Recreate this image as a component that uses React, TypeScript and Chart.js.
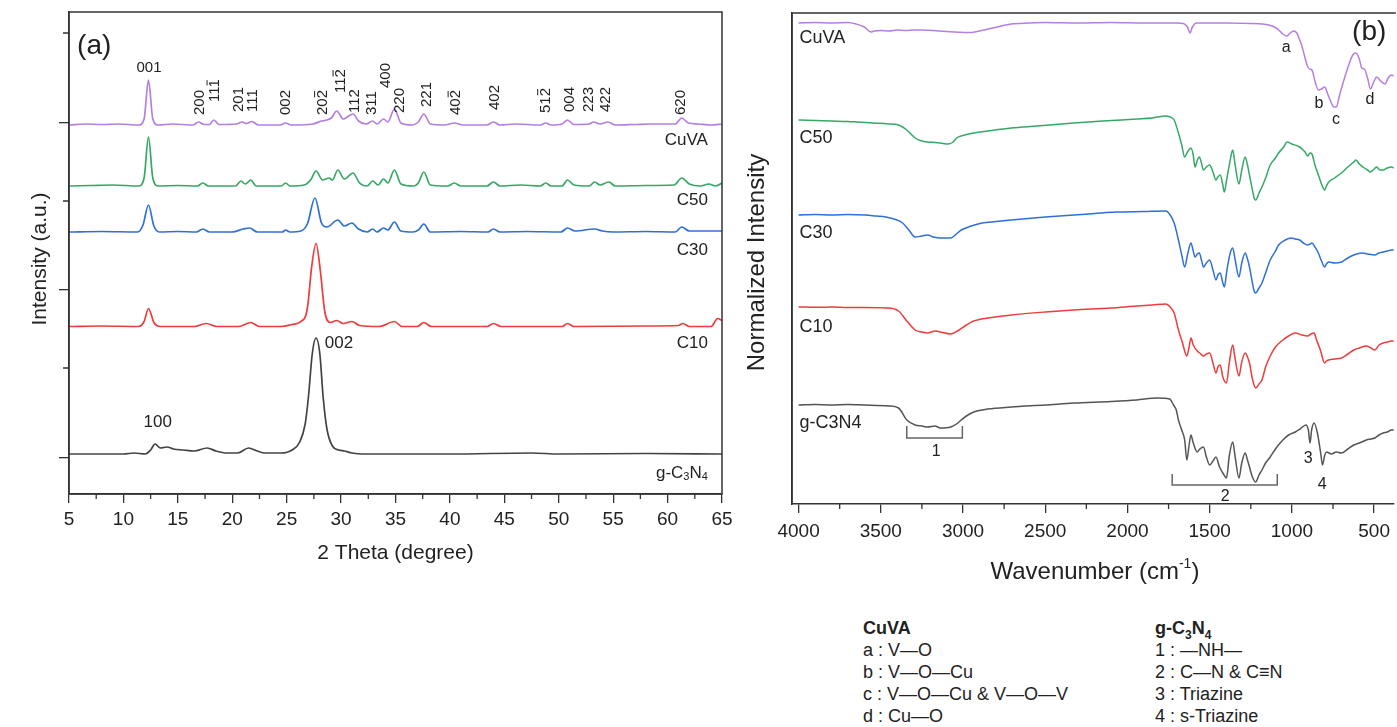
import React, { useEffect, useRef } from 'react';
import { Chart, registerables } from 'chart.js';

Chart.register(...registerables);

const SANS = "'Liberation Sans', Arial, sans-serif";
const TXT = '#222222';
const AXC = '#333333';

// ---------------- Panel (a): XRD ----------------
const XRD_NAMES = ['CuVA', 'C50', 'C30', 'C10', 'g-C3N4'];
const XRD_COLORS = ['#b57fe2', '#35a866', '#2f6fd8', '#ee3b3b', '#444444'];
const XRD_OFFSETS = [369, 308, 262, 167.5, 40];

const XRD_CUVA: [number, number][] = [
  [5, 0], [6.5, 1], [8, 0.5], [9.5, 1], [11.4, 0], [11.9, 6], [12.3, 45], [12.7, 6], [13.2, 0], [14.5, 1], [16.4, 0],
  [16.9, 3], [17.4, 0.5], [17.9, 0.5], [18.3, 5], [18.8, 0.5], [20.4, 1], [20.9, 3], [21.3, 1.5], [21.8, 3.5], [22.4, 0],
  [24.4, 0], [24.9, 2], [25.4, 0], [27.4, 1], [28.2, 4], [28.7, 5], [29.1, 7], [29.6, 14], [30.2, 6], [30.7, 9],
  [31.1, 11], [31.6, 4], [32.3, 1], [32.9, 4], [33.3, 1], [33.9, 6], [34.3, 3], [34.9, 16], [35.5, 2], [36.5, 0],
  [37.1, 3], [37.6, 11], [38.2, 1], [39.5, 0], [40.4, 2], [41.2, 0], [43.4, 0], [44.0, 3], [44.6, 0], [46, 1],
  [48.3, 0], [48.8, 2], [49.3, 0], [50.3, 1], [50.8, 5], [51.4, 0.5], [52.8, 1], [53.2, 3], [53.8, 1], [54.5, 3],
  [55.2, 0], [57, 0.5], [58.5, 1], [60.7, 1], [61.3, 7], [61.9, 2], [62.8, 1], [64, 0], [65, 1],
];
const XRD_C50: [number, number][] = [
  [5, 0], [7, 0.5], [9, 1], [11.4, 0], [11.9, 8], [12.3, 49], [12.7, 8], [13.2, 0], [15, 0.5], [16.8, 0], [17.3, 3],
  [17.8, 0], [20.3, 0], [20.8, 5], [21.2, 2], [21.7, 6], [22.2, 0], [24.5, 0], [24.9, 3], [25.3, 0], [26.6, 1],
  [27.2, 6], [27.7, 15], [28.3, 6], [28.9, 8], [29.2, 6], [29.7, 16], [30.3, 7], [31.1, 13], [31.7, 3], [32.4, 0],
  [32.9, 5], [33.4, 1], [33.9, 7], [34.3, 3], [34.9, 16], [35.5, 2], [36.6, 0], [37.1, 3], [37.6, 14], [38.2, 1],
  [39.8, 0], [40.4, 3], [41, 0], [43.4, 0], [44, 4], [44.6, 0], [46.5, 1], [48.3, 0], [48.8, 3], [49.3, 0],
  [50.3, 0], [50.8, 6], [51.4, 1], [52.8, 0], [53.3, 4], [53.8, 1], [54.6, 4], [55.2, 0], [58, 0.5], [60.6, 1],
  [61.3, 8], [62, 2], [63, 0], [63.8, 2], [64.4, 0], [65, 3],
];
const XRD_C30: [number, number][] = [
  [5, 0], [8, 0.5], [11.3, 0], [11.8, 7], [12.3, 27], [12.8, 6], [13.3, 0], [15, 0.5], [16.7, 0], [17.3, 3], [17.9, 0],
  [20, 0], [21, 3], [21.6, 4], [22.3, 0], [24.6, 0], [24.9, 2], [25.3, 0], [26.3, 1], [26.9, 8], [27.6, 34],
  [28.2, 9], [28.7, 5], [29.7, 12], [30.3, 6], [31.0, 9], [31.6, 3], [32.4, 0], [32.9, 3], [33.3, 0], [33.9, 4],
  [34.3, 2], [34.9, 10], [35.5, 1], [36.6, 0], [37.1, 2], [37.6, 8], [38.2, 0], [41, 0.5], [43.5, 0], [44, 3],
  [44.6, 0], [47, 0.5], [50.2, 0], [50.8, 4], [51.5, 1], [53.3, 3], [54, 1], [55, 0], [58, 0.5], [60.7, 0],
  [61.3, 5], [62, 1], [65, 1],
];
const XRD_C10: [number, number][] = [
  [5, 0], [8, 0.5], [11.4, 0], [11.9, 5], [12.3, 18], [12.8, 4], [13.4, 0], [16.5, 0], [17.6, 3], [18.6, 0], [20.6, 0],
  [21.7, 4], [22.5, 0], [24.5, 0], [25.5, 2], [26.3, 5], [26.9, 18], [27.3, 60], [27.7, 83], [28.1, 55], [28.5, 15],
  [29, 4], [29.6, 6], [30.2, 3], [31, 5], [31.7, 1], [33.5, 0], [34.9, 5], [35.6, 0], [37, 0], [37.6, 4], [38.3, 0],
  [43.4, 0], [44, 3], [44.7, 0], [50.3, 0], [50.8, 3], [51.4, 0], [58, 0.5], [61, 1], [61.4, 3], [62, 0], [64, 0],
  [64.6, 8], [65, 6],
];
const XRD_GCN: [number, number][] = [
  [5, 0], [8, 0], [10, 0], [11, 1], [12, 0], [12.5, 4], [12.9, 10], [13.4, 6], [14, 7], [14.6, 5], [15.5, 4],
  [16.5, 3], [17.7, 6], [18.5, 3], [19.5, 1], [20.5, 1], [21.5, 6], [22.3, 3], [23, 1], [24.5, 1], [25.5, 4],
  [26.2, 12], [26.7, 30], [27.0, 57], [27.35, 100], [27.7, 116], [28.05, 100], [28.35, 57], [28.7, 25], [29.2, 8],
  [29.8, 4], [30.3, 3], [31, 1], [32, 0], [40, 0], [47.5, 1], [50, 0], [58, 0.5], [65, 0],
];
const XRD_DATA = [XRD_CUVA, XRD_C50, XRD_C30, XRD_C10, XRD_GCN];

const X_TICKS_A = [5, 10, 15, 20, 25, 30, 35, 40, 45, 50, 55, 60, 65];
const X_MINOR_A = [7.5, 12.5, 17.5, 22.5, 27.5, 32.5, 37.5, 42.5, 47.5, 52.5, 57.5, 62.5];
const Y_TICKS_A = [36, 204, 371];
const Y_MINOR_A = [126, 293, 461];

// label, barred char index, 2theta, bottom (a.u.)
const MILLER: [string, number, number, number][] = [
  ['200', -1, 17.0, 379], ['111', 2, 18.42, 392], ['201', -1, 20.6, 382], ['111', -1, 21.87, 382],
  ['002', -1, 24.94, 379], ['202', 2, 28.3, 379], ['112', 2, 30.0, 401], ['112', -1, 31.29, 381],
  ['311', -1, 32.85, 379], ['400', -1, 34.14, 406], ['220', -1, 35.38, 381], ['221', -1, 37.9, 387],
  ['402', 2, 40.57, 379], ['402', -1, 44.1, 384], ['512', 2, 48.8, 381], ['004', -1, 51.0, 382],
  ['223', -1, 52.75, 382], ['422', -1, 54.3, 382], ['620', -1, 61.25, 379],
];
const XRD_LABEL_POS: [number, number][] = [[63.7, 354], [63.7, 294], [63.7, 244], [63.7, 151], [63.7, 21]];

// ---------------- Panel (b): FTIR ----------------
const IR_NAMES = ['CuVA', 'C50', 'C30', 'C10', 'g-C3N4'];
const IR_COLORS = ['#b57fe2', '#35a866', '#2f6fd8', '#ee3b3b', '#555555'];
const IR_OFFSETS = [481, 384, 289, 197, 99];

const IR_CUVA: [number, number][] = [
  [4000, 0], [3900, 0.5], [3800, 0], [3700, 0.5], [3650, -1], [3600, -4], [3560, -9], [3540, -8], [3500, -7.5],
  [3450, -8], [3400, -7], [3350, -7.5], [3300, -7], [3242, -7], [3150, -8], [3050, -9], [2950, -9.5], [2900, -8],
  [2820, -5], [2708, -1], [2600, 0], [2500, 0.5], [2300, 0], [2100, 0.5], [1900, 0], [1800, 0], [1700, 0],
  [1660, -0.5], [1635, -4], [1620, -10], [1605, -4], [1580, 0], [1400, 0], [1250, -0.5], [1180, -1], [1140, -2],
  [1106, -4], [1080, -7], [1055, -11], [1030, -13], [1010, -10], [990, -8], [970, -10], [955, -16], [941, -22],
  [920, -35], [903, -44], [890, -46], [878, -47], [860, -58], [839, -67], [820, -66], [801, -64], [780, -72],
  [760, -80], [745, -84], [730, -84], [710, -72], [680, -55], [650, -40], [630, -32], [611, -30], [590, -36],
  [575, -45], [560, -46], [540, -55], [522, -66], [505, -60], [484, -54], [460, -58], [433, -61], [415, -55],
  [395, -52], [380, -53],
];
const IR_C50: [number, number][] = [
  [4000, 0], [3900, -0.5], [3800, -1], [3700, -1.5], [3648, -2], [3550, -3], [3450, -4], [3392, -5], [3342, -10],
  [3291, -18], [3250, -21], [3215, -22], [3170, -22.5], [3138, -23], [3090, -24], [3060, -22], [3039, -18],
  [2990, -15], [2935, -13], [2850, -11], [2707, -8], [2550, -6], [2326, -3], [2150, -1], [1944, 1], [1850, 2],
  [1767, 4], [1740, 3], [1716, 0], [1690, -13], [1670, -25], [1652, -37], [1635, -32], [1614, -28], [1600, -35],
  [1589, -47], [1575, -40], [1563, -37], [1550, -43], [1538, -50], [1520, -47], [1500, -45], [1480, -52],
  [1462, -60], [1450, -57], [1436, -55], [1420, -65], [1411, -72], [1395, -58], [1375, -40], [1360, -30],
  [1345, -45], [1322, -64], [1305, -50], [1284, -37], [1270, -45], [1258, -55], [1240, -70], [1230, -78],
  [1220, -80], [1200, -73], [1182, -67], [1160, -58], [1132, -45], [1100, -38], [1081, -33], [1050, -27],
  [1030, -22], [1000, -24], [953, -27], [920, -32], [903, -36], [890, -33], [878, -34], [860, -45], [839, -55],
  [820, -64], [801, -70], [790, -66], [776, -62], [740, -58], [699, -53], [660, -47], [624, -42], [611, -40],
  [590, -44], [560, -48], [540, -50], [522, -52], [500, -49], [484, -47], [465, -50], [445, -50], [420, -48],
  [395, -47], [380, -48],
];
const IR_C30: [number, number][] = [
  [4000, 0], [3900, 0.5], [3800, 0], [3700, 0.5], [3596, 0], [3530, -1], [3469, -2], [3420, -4], [3367, -8],
  [3330, -15], [3291, -22], [3250, -21], [3215, -20], [3180, -22], [3138, -23], [3075, -23], [3040, -19],
  [3011, -15], [2950, -11], [2884, -8], [2800, -6.5], [2707, -5], [2500, -2], [2326, 0], [2200, 1.5], [2072, 3],
  [1900, 3.5], [1767, 4], [1740, 0], [1716, -8], [1690, -25], [1670, -40], [1652, -52], [1635, -40], [1614, -28],
  [1600, -36], [1589, -42], [1575, -39], [1563, -38], [1550, -45], [1538, -52], [1520, -48], [1500, -45],
  [1480, -55], [1462, -65], [1450, -60], [1436, -58], [1420, -68], [1411, -72], [1395, -55], [1375, -38],
  [1360, -33], [1345, -45], [1322, -62], [1305, -48], [1284, -38], [1270, -44], [1258, -52], [1240, -68],
  [1230, -76], [1220, -78], [1200, -73], [1182, -68], [1160, -58], [1132, -45], [1100, -36], [1081, -30],
  [1040, -25], [1004, -23], [980, -24], [953, -25], [930, -28], [903, -30], [890, -29], [878, -28], [860, -32],
  [839, -38], [820, -46], [801, -52], [790, -49], [776, -47], [740, -48], [699, -47], [660, -43], [624, -40],
  [573, -38], [540, -39], [496, -40], [470, -38], [445, -37], [420, -36], [395, -35], [380, -35],
];
const IR_C10: [number, number][] = [
  [4000, 0], [3900, -0.3], [3800, 0], [3700, -0.5], [3600, -0.5], [3469, -1], [3392, -4], [3342, -14], [3291, -23],
  [3250, -25], [3215, -26], [3170, -24], [3138, -25], [3075, -27], [3024, -23], [2980, -18], [2935, -14],
  [2850, -11], [2707, -8], [2500, -5], [2326, -3], [2100, -1], [1944, 1], [1850, 2], [1767, 3], [1740, 0],
  [1716, -6], [1690, -23], [1665, -36], [1639, -49], [1625, -40], [1614, -31], [1600, -38], [1576, -44],
  [1560, -46], [1538, -49], [1520, -47], [1500, -46], [1480, -56], [1462, -66], [1450, -60], [1436, -58],
  [1420, -70], [1398, -76], [1380, -55], [1360, -38], [1345, -52], [1322, -69], [1305, -55], [1284, -46],
  [1270, -50], [1258, -56], [1240, -72], [1220, -81], [1200, -77], [1182, -73], [1160, -60], [1132, -49],
  [1100, -40], [1055, -33], [1020, -29], [979, -26], [940, -28], [903, -29], [885, -27], [865, -26], [850, -33],
  [827, -43], [801, -56], [790, -54], [776, -53], [740, -52], [699, -51], [660, -47], [624, -43], [590, -41],
  [547, -39], [520, -41], [496, -43], [470, -38], [445, -36], [420, -35], [395, -34], [380, -34],
];
const IR_GCN: [number, number][] = [
  [4000, 0], [3900, 0.5], [3800, 0], [3700, 0.5], [3600, 0], [3450, -1], [3392, -3], [3342, -15], [3291, -20],
  [3250, -21], [3215, -22], [3170, -21], [3138, -23], [3075, -22], [3040, -19], [3011, -15], [2970, -10],
  [2935, -7], [2850, -4], [2707, -2], [2500, 0], [2326, 2], [2100, 3.5], [1944, 5], [1818, 7], [1743, 6],
  [1720, 0], [1703, -5], [1690, -15], [1670, -25], [1652, -35], [1639, -55], [1625, -40], [1614, -30],
  [1600, -38], [1576, -47], [1560, -44], [1538, -42], [1520, -52], [1500, -60], [1480, -56], [1462, -52],
  [1440, -62], [1420, -68], [1398, -73], [1380, -50], [1360, -37], [1345, -52], [1322, -73], [1305, -58],
  [1284, -48], [1270, -55], [1258, -62], [1240, -72], [1220, -77], [1200, -70], [1182, -65], [1160, -58],
  [1132, -52], [1100, -44], [1055, -35], [1020, -30], [979, -27], [950, -24], [915, -20], [900, -25], [890, -38],
  [880, -25], [865, -18], [845, -28], [825, -48], [814, -60], [800, -50], [789, -47], [760, -49], [730, -47],
  [699, -48], [660, -44], [624, -40], [590, -38], [547, -35], [520, -34], [496, -33], [470, -30], [445, -28],
  [420, -27], [395, -25], [380, -25],
];
const IR_DATA = [IR_CUVA, IR_C50, IR_C30, IR_C10, IR_GCN];

const X_TICKS_B = [4000, 3500, 3000, 2500, 2000, 1500, 1000, 500];
const X_MINOR_B = [3750, 3250, 2750, 2250, 1750, 1250, 750];
const IR_LABEL_POS: [number, number][] = [[3994, 466], [3994, 366], [3994, 271], [3994, 177], [3994, 81]];
const IR_BAND_LETTERS: [string, number, number][] = [['a', 1035, 456], ['b', 835, 400], ['c', 732, 384], ['d', 525, 404]];
const IR_BAND_NUMBERS: [string, number, number][] = [['1', 3163, 52], ['2', 1405, 7], ['3', 901, 45], ['4', 816, 19]];
// from, to, top, bottom (a.u.)
const BRACKETS: [number, number, number, number][] = [[3342, 3004, 78, 66], [1728, 1089, 30, 19]];

const CUVA_BANDS = ['a : V\u2014O', 'b : V\u2014O\u2014Cu', 'c : V\u2014O\u2014Cu & V\u2014O\u2014V', 'd : Cu\u2014O'];
const CN_BANDS = ['1 : \u2014NH\u2014', '2 : C\u2014N & C\u2261N', '3 : Triazine', '4 : s-Triazine'];

type Part = { t: string; size: number; dy: number; bold?: boolean };
function drawParts(ctx: CanvasRenderingContext2D, parts: Part[], x: number, y: number, align: string) {
  const widths = parts.map((p) => {
    ctx.font = `${p.bold ? 'bold ' : ''}${p.size}px ${SANS}`;
    return ctx.measureText(p.t).width;
  });
  const total = widths.reduce((a, b) => a + b, 0);
  let cx = align === 'left' ? x : align === 'center' ? x - total / 2 : x - total;
  ctx.textAlign = 'left';
  ctx.textBaseline = 'middle';
  parts.forEach((p, i) => {
    ctx.font = `${p.bold ? 'bold ' : ''}${p.size}px ${SANS}`;
    ctx.fillText(p.t, cx, y + p.dy);
    cx += widths[i];
  });
}

function text(ctx: CanvasRenderingContext2D, t: string, x: number, y: number, size: number, align: CanvasTextAlign) {
  ctx.font = `${size}px ${SANS}`;
  ctx.textAlign = align;
  ctx.textBaseline = 'middle';
  ctx.fillText(t, x, y);
}

const decorA = {
  id: 'decorA',
  afterDraw(chart: any) {
    const { ctx, chartArea: ca, scales } = chart;
    const xs = scales.x;
    const ys = scales.y;
    ctx.save();
    ctx.strokeStyle = AXC;
    ctx.lineWidth = 1.5;
    ctx.strokeRect(ca.left, ca.top, ca.right - ca.left, ca.bottom - ca.top);
    ctx.lineWidth = 1.3;
    ctx.beginPath();
    X_MINOR_A.forEach((v) => {
      const px = xs.getPixelForValue(v);
      ctx.moveTo(px, ca.bottom);
      ctx.lineTo(px, ca.bottom + 5);
    });
    Y_MINOR_A.forEach((v) => {
      const py = ys.getPixelForValue(v);
      ctx.moveTo(ca.left, py);
      ctx.lineTo(ca.left - 6, py);
    });
    ctx.stroke();
    ctx.fillStyle = TXT;
    XRD_NAMES.forEach((n, i) => {
      const [lx, ly] = XRD_LABEL_POS[i];
      const px = xs.getPixelForValue(lx);
      const py = ys.getPixelForValue(ly);
      if (n === 'g-C3N4') {
        drawParts(ctx, [
          { t: 'g-C', size: 17, dy: 0 }, { t: '3', size: 11, dy: 4 }, { t: 'N', size: 17, dy: 0 }, { t: '4', size: 11, dy: 4 },
        ], px, py, 'right');
      } else {
        text(ctx, n, px, py, 17, 'right');
      }
    });
    text(ctx, '(a)', xs.getPixelForValue(5.74), ys.getPixelForValue(448), 28, 'left');
    text(ctx, '001', xs.getPixelForValue(12.35), ys.getPixelForValue(426), 15, 'center');
    text(ctx, '100', xs.getPixelForValue(13.15), ys.getPixelForValue(72), 17, 'center');
    text(ctx, '002', xs.getPixelForValue(28.5), ys.getPixelForValue(151), 17, 'left');
    MILLER.forEach(([t, bar, x, yb]) => {
      const px = xs.getPixelForValue(x);
      const py = ys.getPixelForValue(yb);
      ctx.save();
      ctx.translate(px, py);
      ctx.rotate(-Math.PI / 2);
      ctx.font = `15px ${SANS}`;
      ctx.textAlign = 'left';
      ctx.textBaseline = 'middle';
      ctx.fillText(t, 0, 0);
      if (bar >= 0) {
        const x0 = ctx.measureText(t.slice(0, bar)).width;
        const x1 = ctx.measureText(t.slice(0, bar + 1)).width;
        ctx.strokeStyle = TXT;
        ctx.lineWidth = 1;
        ctx.beginPath();
        ctx.moveTo(x0 + 1, -8);
        ctx.lineTo(x1 - 1, -8);
        ctx.stroke();
      }
      ctx.restore();
    });
    text(ctx, '2 Theta (degree)', (ca.left + ca.right) / 2, 553, 21, 'center');
    ctx.save();
    ctx.translate(40, (ca.top + ca.bottom) / 2 + 6);
    ctx.rotate(-Math.PI / 2);
    text(ctx, 'Intensity (a.u.)', 0, 0, 21, 'center');
    ctx.restore();
    ctx.restore();
  },
};

const decorB = {
  id: 'decorB',
  afterDraw(chart: any) {
    const { ctx, chartArea: ca, scales } = chart;
    const xs = scales.x;
    const ys = scales.y;
    ctx.save();
    ctx.strokeStyle = AXC;
    ctx.lineWidth = 1.5;
    ctx.beginPath();
    ctx.moveTo(ca.left, ca.bottom);
    ctx.lineTo(ca.left, ca.top);
    ctx.lineTo(ca.right + 2, ca.top);
    ctx.stroke();
    ctx.lineWidth = 1.3;
    ctx.beginPath();
    X_MINOR_B.forEach((v) => {
      const px = xs.getPixelForValue(v);
      ctx.moveTo(px, ca.bottom);
      ctx.lineTo(px, ca.bottom + 5);
    });
    ctx.stroke();
    ctx.fillStyle = TXT;
    IR_NAMES.forEach((n, i) => {
      const [lx, ly] = IR_LABEL_POS[i];
      text(ctx, n, xs.getPixelForValue(lx), ys.getPixelForValue(ly), 18, 'left');
    });
    IR_BAND_LETTERS.forEach(([t, x, y]) => text(ctx, t, xs.getPixelForValue(x), ys.getPixelForValue(y), 16, 'center'));
    IR_BAND_NUMBERS.forEach(([t, x, y]) => text(ctx, t, xs.getPixelForValue(x), ys.getPixelForValue(y), 16, 'center'));
    text(ctx, '(b)', xs.getPixelForValue(634), ys.getPixelForValue(472), 28, 'left');
    drawParts(ctx, [
      { t: 'Wavenumber (cm', size: 24, dy: 0 }, { t: '-1', size: 14, dy: -8 }, { t: ')', size: 24, dy: 0 },
    ], (ca.left + ca.right) / 2 + 2, 572, 'center');
    ctx.save();
    ctx.translate(17, (ca.top + ca.bottom) / 2 + 4);
    ctx.rotate(-Math.PI / 2);
    text(ctx, 'Normalized Intensity', 0, 0, 24, 'center');
    ctx.restore();
    ctx.restore();
  },
};

export default function App() {
  const refA = useRef<HTMLCanvasElement | null>(null);
  const refB = useRef<HTMLCanvasElement | null>(null);

  useEffect(() => {
    const tickFont = { family: SANS, size: 19 };
    const chartA = new Chart(refA.current as HTMLCanvasElement, {
      type: 'line',
      data: {
        datasets: XRD_NAMES.map((n, i) => ({
          label: n,
          data: XRD_DATA[i].map(([x, y]) => ({ x, y: y + XRD_OFFSETS[i] })),
          borderColor: XRD_COLORS[i],
          borderWidth: 1.7,
          pointRadius: 0,
          fill: false,
          cubicInterpolationMode: 'monotone',
        })),
      },
      options: {
        animation: false,
        responsive: false,
        maintainAspectRatio: false,
        layout: { padding: { left: 0, top: 12, right: 18, bottom: 0 } },
        plugins: { legend: { display: false }, tooltip: { enabled: false } },
        scales: {
          x: {
            type: 'linear', min: 5, max: 65,
            afterFit: (s: any) => { s.height = 106; },
            afterBuildTicks: (s: any) => { s.ticks = X_TICKS_A.map((v) => ({ value: v })); },
            ticks: { callback: (v: any) => String(v), font: tickFont, color: TXT, padding: 5, maxRotation: 0, autoSkip: false },
            grid: { drawOnChartArea: false, tickLength: 9, color: AXC, lineWidth: 1.3 },
            border: { color: AXC, width: 1.5 },
          },
          y: {
            type: 'linear', min: 0, max: 482,
            afterFit: (s: any) => { s.width = 69; },
            afterBuildTicks: (s: any) => { s.ticks = Y_TICKS_A.map((v) => ({ value: v })); },
            ticks: { display: false },
            grid: { drawOnChartArea: false, tickLength: 10, color: AXC, lineWidth: 1.3 },
            border: { color: AXC, width: 1.5 },
          },
        },
      } as any,
      plugins: [decorA],
    });

    const irSets: any[] = IR_NAMES.map((n, i) => ({
      label: n,
      data: IR_DATA[i].map(([x, y]) => ({ x, y: y + IR_OFFSETS[i] })),
      borderColor: IR_COLORS[i],
      borderWidth: 1.5,
      pointRadius: 0,
      fill: false,
      cubicInterpolationMode: 'monotone',
    }));
    BRACKETS.forEach(([a, b, top, bot]) => {
      irSets.push({
        label: 'bracket',
        data: [{ x: a, y: top }, { x: a, y: bot }, { x: b, y: bot }, { x: b, y: top }],
        borderColor: '#666666',
        borderWidth: 1.5,
        pointRadius: 0,
        fill: false,
        tension: 0,
      });
    });

    const chartB = new Chart(refB.current as HTMLCanvasElement, {
      type: 'line',
      data: { datasets: irSets },
      options: {
        animation: false,
        responsive: false,
        maintainAspectRatio: false,
        layout: { padding: { left: 0, top: 13, right: 1, bottom: 0 } },
        plugins: { legend: { display: false }, tooltip: { enabled: false } },
        scales: {
          x: {
            type: 'linear', min: 380, max: 4040, reverse: true,
            afterFit: (s: any) => { s.height = 96; },
            afterBuildTicks: (s: any) => { s.ticks = X_TICKS_B.map((v) => ({ value: v })); },
            ticks: { callback: (v: any) => String(v), font: tickFont, color: TXT, padding: 7, maxRotation: 0, autoSkip: false },
            grid: { drawOnChartArea: false, tickLength: 9, color: AXC, lineWidth: 1.3 },
            border: { color: AXC, width: 1.5 },
          },
          y: {
            type: 'linear', min: 0, max: 491,
            afterFit: (s: any) => { s.width = 52; },
            ticks: { display: false },
            grid: { display: false },
            border: { color: AXC, width: 1.5 },
          },
        },
      } as any,
      plugins: [decorB],
    });

    return () => {
      chartA.destroy();
      chartB.destroy();
    };
  }, []);

  const legendStyle: React.CSSProperties = {
    position: 'absolute', top: 617, fontFamily: SANS, fontSize: 18, lineHeight: '22px', color: TXT, whiteSpace: 'nowrap',
  };
  const subStyle: React.CSSProperties = { fontSize: 12, verticalAlign: 'sub', lineHeight: 0 };

  return (
    <div style={{ position: 'fixed', left: 0, top: 0, width: 1397, height: 727, background: '#ffffff', overflow: 'hidden' }}>
      <canvas ref={refA} width={740} height={600} style={{ position: 'absolute', left: 0, top: 0, width: 740, height: 600 }} />
      <canvas ref={refB} width={657} height={600} style={{ position: 'absolute', left: 740, top: 0, width: 657, height: 600 }} />
      <div style={{ ...legendStyle, left: 863 }}>
        <div style={{ fontWeight: 'bold' }}>CuVA</div>
        {CUVA_BANDS.map((t) => <div key={t}>{t}</div>)}
      </div>
      <div style={{ ...legendStyle, left: 1155 }}>
        <div style={{ fontWeight: 'bold' }}>g-C<span style={subStyle}>3</span>N<span style={subStyle}>4</span></div>
        {CN_BANDS.map((t) => <div key={t}>{t}</div>)}
      </div>
    </div>
  );
}
